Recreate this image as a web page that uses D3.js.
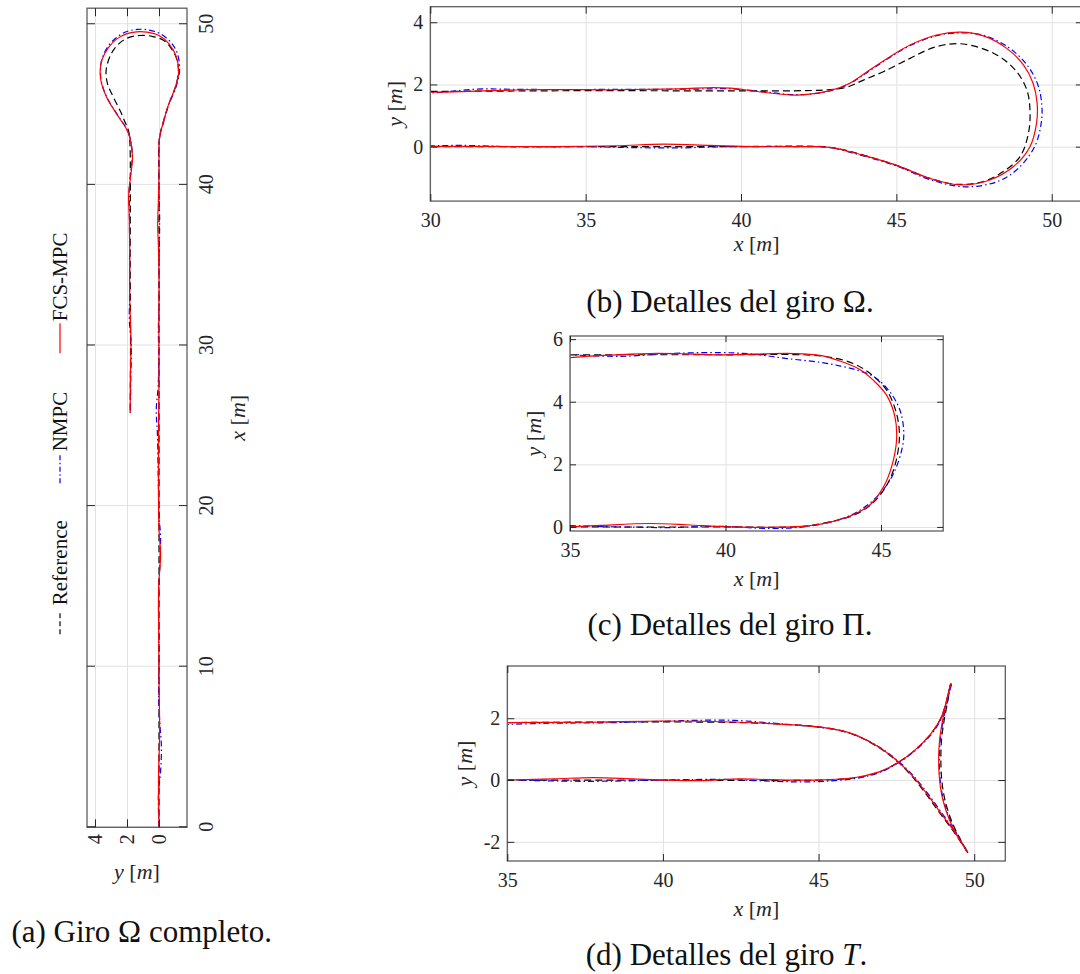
<!DOCTYPE html>
<html>
<head>
<meta charset="utf-8">
<script src="https://cdn.jsdelivr.net/npm/d3@7"></script>
<style>
body { margin: 0; background: #fff; }
svg { display: block; font-family: "Liberation Serif", "DejaVu Serif", serif; }
</style>
</head>
<body>
<svg id="fig" width="1080" height="974"></svg>
<script>

// series in drawing order (reference below, FCS-MPC on top)
var seriesNames = ["Reference", "NMPC", "FCS-MPC"];

// ---- Ω turn, [x, y] in metres (panels a and b) ----
var omegaRef = [[0,0],[10,0],[20,0],[30,0],[40,0],[42.6,0],[43.3,-0.1],[43.94,-0.27],[45.0,-0.6],[46.08,-1.02],
    [46.94,-1.21],[47.8,-1.12],[48.44,-0.8],[48.98,-0.32],[49.25,0.43],[49.3,1.18],[49.2,1.82],[48.87,2.41],
    [48.23,2.95],[47.16,3.3],[46.3,3.22],[45.44,2.84],[44.58,2.41],[43.94,2.14],[43.4,1.91],[42.8,1.83],
    [42,1.8],[35,1.8],[30,1.78],[25.8,1.8]];
var omegaNmpc = [[0,0],[2,0.04],[3.5,-0.1],[5,-0.15],[6.5,-0.05],[8,0.02],[11,0],[14,0.03],[16.5,-0.06],[18,-0.1],
    [19.5,0],[22,0.05],[24.5,0.1],[26,0.17],[27.5,0.05],[29.5,0.02],[31,0.04],[33,-0.01],[35,0],[36.5,-0.03],
    [38,-0.04],[39.5,0],[42,0],[42.86,-0.03],[43.94,-0.3],[45.01,-0.62],[46.08,-1.06],[47.2,-1.29],[48.23,-1.13],
    [48.9,-0.72],[49.45,0],[49.66,0.75],[49.68,1.35],[49.55,2.0],[49.2,2.63],[48.6,3.2],[47.8,3.58],[47.05,3.66],
    [46.3,3.57],[45.44,3.25],[44.79,2.87],[44.15,2.45],[43.5,2.03],[42.86,1.79],[41.79,1.67],[40.72,1.77],
    [39.66,1.86],[38.5,1.85],[36,1.84],[33,1.84],[31.5,1.85],[30,1.73],[28,1.76],[25.8,1.79]];
var omegaFcs = [[0,0],[3,0.03],[6,-0.04],[9,0],[12,0.02],[15,0.02],[17,-0.1],[18.5,0],[21,0.03],[24,0.04],
    [26,0.02],[28,0],[31,0.01],[34,0],[36,0.03],[37.5,0.08],[39,0.04],[40.5,0],[42,0],[42.86,-0.02],[43.94,-0.28],
    [45.01,-0.6],[46.08,-1.02],[47.05,-1.23],[48.01,-1.07],[48.77,-0.64],[49.3,0],[49.51,0.75],[49.53,1.4],
    [49.4,2.04],[49.09,2.63],[48.55,3.16],[47.8,3.56],[47.05,3.68],[46.3,3.59],[45.44,3.27],[44.79,2.89],
    [44.15,2.47],[43.5,2.04],[42.86,1.8],[41.79,1.66],[40.72,1.75],[39.66,1.88],[39.1,1.9],[38,1.86],[36,1.83],
    [33,1.83],[31,1.77],[30,1.75],[28,1.79],[25.8,1.8]];

// ---- Π turn (panel c) ----
var piRef = [[35,0],[40,0],[42.5,0.02],[43.57,0.21],[44.11,0.37],[44.65,0.69],[45.08,1.17],[45.4,1.81],[45.59,2.82],
    [45.5,3.62],[45.18,4.37],[44.65,4.9],[44.11,5.22],[43.47,5.4],[42.72,5.49],[40,5.5],[35,5.5]];
var piNmpc = [[35,0.04],[36.61,0],[38.22,-0.02],[39.82,0.02],[41.43,-0.05],[42.5,0],[43.57,0.21],[44.32,0.53],
    [44.97,1.07],[45.4,1.7],[45.69,2.56],[45.73,3.09],[45.61,3.73],[45.29,4.31],[44.8,4.78],[44.3,4.99],
    [43.7,5.14],[43.04,5.26],[41.97,5.38],[40.89,5.52],[39.82,5.57],[38.22,5.54],[36.61,5.45],[35,5.5]];
var piFcs = [[35,0],[36,0.05],[37.57,0.11],[38.75,0.07],[40.04,0],[41.43,-0.01],[42.5,0.02],[43.36,0.15],[44.11,0.39],
    [44.65,0.71],[45.08,1.28],[45.34,1.92],[45.5,2.77],[45.45,3.51],[45.18,4.21],[44.75,4.69],[44.32,5.03],
    [43.68,5.3],[43.04,5.48],[42.18,5.54],[40.89,5.52],[39.82,5.5],[38.75,5.53],[37.57,5.54],[36.07,5.48],[35,5.41]];

// ---- T turn (panel d): forward, reverse, forward ----
var tRef = [
    [[35,0],[40,0],[45,0],[46.22,0.08],[46.97,0.27],[47.51,0.54],[48.04,0.92],[48.58,1.46],[48.9,1.94],[49.06,2.37],
     [49.17,2.81],[49.24,3.1]],
    [[49.24,3.1],[49.14,2.5],[49.03,1.9],[48.95,1.3],[48.93,0.7],[48.95,0.1],[49.03,-0.5],[49.16,-1.0],[49.35,-1.5],
     [49.57,-1.94],[49.8,-2.36]],
    [[49.8,-2.36],[49.32,-1.64],[48.88,-1.05],[48.45,-0.45],[48.02,0.1],[47.55,0.58],[47.07,0.96],[46.55,1.28],
     [45.9,1.55],[45,1.72],[43.76,1.81],[42.48,1.86],[40,1.88],[35,1.86]]];
var tNmpc = [
    [[35,0.01],[36.5,-0.03],[38,-0.04],[40,0],[42,0.02],[43.5,-0.04],[44.6,-0.06],[45.5,-0.02],[46.3,0.07],[47.0,0.26],
     [47.55,0.55],[48.08,0.93],[48.6,1.45],[48.93,1.95],[49.1,2.4],[49.2,2.85],[49.27,3.12]],
    [[49.27,3.12],[49.13,2.5],[49.0,1.9],[48.91,1.3],[48.88,0.7],[48.9,0.1],[48.98,-0.5],[49.12,-1.0],[49.32,-1.5],
     [49.55,-1.94],[49.79,-2.33]],
    [[49.79,-2.33],[49.36,-1.63],[48.95,-1.05],[48.52,-0.45],[48.08,0.1],[47.6,0.58],[47.1,0.97],[46.58,1.28],
     [45.9,1.55],[45,1.71],[43.76,1.82],[42.3,1.93],[41,1.93],[40,1.9],[38,1.85],[36.5,1.84],[35,1.8]]];
var tFcs = [
    [[35,0],[36.5,0.04],[37.76,0.08],[39,0.04],[40,0],[41.3,-0.02],[42.48,0.04],[43.5,0.01],[45,0],[46.22,0.09],
     [46.97,0.27],[47.51,0.54],[48.04,0.92],[48.58,1.46],[48.9,1.94],[49.06,2.37],[49.17,2.81],[49.25,3.13]],
    [[49.25,3.13],[49.1,2.5],[48.98,1.9],[48.89,1.3],[48.86,0.7],[48.88,0.1],[48.96,-0.5],[49.1,-1.0],[49.3,-1.5],
     [49.54,-1.94],[49.79,-2.34]],
    [[49.79,-2.34],[49.33,-1.62],[48.9,-1.03],[48.47,-0.43],[48.04,0.11],[47.56,0.59],[47.08,0.97],[46.55,1.29],
     [45.9,1.56],[45,1.72],[43.76,1.81],[42.48,1.87],[40,1.91],[37.55,1.87],[35,1.86]]];

// tick values
var omegaFullXTicks = [0, 10, 20, 30, 40, 50];
var omegaXTicks = [30, 35, 40, 45, 50];
var omegaYTicks = [0, 2, 4];
var piXTicks = [35, 40, 45];
var piYTicks = [0, 2, 4, 6];
var tXTicks = [35, 40, 45, 50];
var tYTicks = [-2, 0, 2];

// line styles, same order as seriesNames
var lineColors = ["#000000", "#0000ff", "#ff0000"];
var lineDash = ["7,4", "6,3,1.5,3", null];
var legendDash = ["5,3", "5,2.5,1.5,2.5", null];

var svg = d3.select("#fig");
var clipCount = 0;

function drawPanel(g, p) {
    var x = d3.scaleLinear().domain(p.xDomain).range([0, p.w]);
    var y = d3.scaleLinear().domain(p.yDomain).range([p.h, 0]);

    //grid lines
    var gx = g.append("g")
        .attr("transform", "translate(0," + p.h + ")")
        .call(d3.axisBottom(x).tickValues(p.xTicks).tickSize(-p.h).tickFormat(""));
    var gy = g.append("g")
        .call(d3.axisLeft(y).tickValues(p.yTicks).tickSize(-p.w).tickFormat(""));
    [gx, gy].forEach(function (a) {
        a.select(".domain").remove();
        a.selectAll("line").attr("stroke", "#e1e1e1").attr("stroke-width", 1);
    });

    //trajectories, clipped to the axes box
    clipCount++;
    var clipId = "clip" + clipCount;
    g.append("clipPath").attr("id", clipId)
        .append("rect").attr("width", p.w).attr("height", p.h);

    var line = d3.line()
        .x(function (d) { return x(d[0]); })
        .y(function (d) { return y(d[1]); })
        .curve(d3.curveCatmullRom.alpha(0.5));

    var plot = g.append("g").attr("clip-path", "url(#" + clipId + ")");
    p.series.forEach(function (segs, i) {
        plot.selectAll(".s" + i)
            .data(segs)
            .enter()
            .append("path")
            .attr("class", "s" + i)
            .attr("d", line)
            .attr("fill", "none")
            .attr("stroke", lineColors[i])
            .attr("stroke-width", 1.2)
            .attr("stroke-dasharray", lineDash[i]);
    });

    //box
    g.append("rect")
        .attr("width", p.w).attr("height", p.h)
        .attr("fill", "none")
        .attr("stroke", "#5e5e5e")
        .attr("stroke-width", 1.3);

    //inward ticks on all four sides, labels only bottom and left
    var axes = [
        g.append("g").attr("transform", "translate(0," + p.h + ")")
            .call(d3.axisBottom(x).tickValues(p.xTicks).tickSizeInner(-p.tick).tickSizeOuter(0)
                .tickPadding(11.3).tickFormat(function (d) { return String(d); })),
        g.append("g")
            .call(d3.axisTop(x).tickValues(p.xTicks).tickSizeInner(-p.tick).tickSizeOuter(0).tickFormat("")),
        g.append("g")
            .call(d3.axisLeft(y).tickValues(p.yTicks).tickSizeInner(-p.tick).tickSizeOuter(0)
                .tickPadding(7).tickFormat(function (d) { return String(d); })),
        g.append("g").attr("transform", "translate(" + p.w + ",0)")
            .call(d3.axisRight(y).tickValues(p.yTicks).tickSizeInner(-p.tick).tickSizeOuter(0).tickFormat(""))
    ];
    axes.forEach(function (a) {
        a.attr("font-family", null).attr("font-size", 20).attr("color", "#262626");
        a.select(".domain").remove();
        a.selectAll("line").attr("stroke-width", 1);
    });

    //x label
    if (p.xLabelY !== undefined) {
        axisLabel(g.append("text"), "x")
            .attr("x", p.w / 2)
            .attr("y", p.xLabelY)
            .attr("text-anchor", "middle");
    }
    //y label (rotated)
    if (p.yLabelX !== undefined) {
        axisLabel(g.append("text"), "y")
            .attr("transform", "translate(" + p.yLabelX + "," + p.h / 2 + ")rotate(-90)")
            .attr("text-anchor", "middle");
    }
    return g;
}

// "x [m]" with italic math symbols
function axisLabel(t, v) {
    t.attr("font-size", 22).attr("fill", "#262626");
    t.append("tspan").attr("font-style", "italic").text(v);
    t.append("tspan").text(" [");
    t.append("tspan").attr("font-style", "italic").text("m");
    t.append("tspan").text("]");
    return t;
}

function caption(cx, cy, parts) {
    var t = svg.append("text")
        .attr("x", cx).attr("y", cy)
        .attr("text-anchor", "middle")
        .attr("font-size", 31)
        .attr("fill", "#111");
    parts.forEach(function (s) {
        t.append("tspan").attr("font-style", s.it ? "italic" : null).text(s.t);
    });
}

// (a) full Ω turn, drawn as a normal chart then turned 90° counter-clockwise
var gA = svg.append("g").attr("transform", "translate(87,827.3)rotate(-90)");
drawPanel(gA, {
    xDomain: [0, 51], yDomain: [-1.75, 4.5], w: 819.1, h: 100, tick: 8,
    xTicks: omegaFullXTicks, yTicks: omegaYTicks,
    series: [[omegaRef], [omegaNmpc], [omegaFcs]],
    xLabelY: 158
});
axisLabel(svg.append("text"), "y")
    .attr("x", 137).attr("y", 879).attr("text-anchor", "middle");

//legend, laid out along the rotated top edge
var legendPos = [[193, 215, 222], [344, 374, 376], [474, 504, 506]];
var legend = gA.append("g").attr("transform", "translate(0,-27)");
seriesNames.forEach(function (name, i) {
    legend.append("line")
        .attr("x1", legendPos[i][0]).attr("x2", legendPos[i][1])
        .attr("stroke", lineColors[i])
        .attr("stroke-width", 1.2)
        .attr("stroke-dasharray", legendDash[i]);
    legend.append("text")
        .attr("x", legendPos[i][2])
        .attr("y", 7)
        .attr("font-size", 21)
        .attr("fill", "#111")
        .text(name);
});

// (b) Ω detail
drawPanel(svg.append("g").attr("transform", "translate(430.3,6.7)"), {
    xDomain: [30, 51], yDomain: [-1.75, 4.5], w: 652.5, h: 194.4, tick: 7,
    xTicks: omegaXTicks, yTicks: omegaYTicks,
    series: [[omegaRef], [omegaNmpc], [omegaFcs]],
    xLabelY: 244, yLabelX: -28.3
});

// (c) Π detail
drawPanel(svg.append("g").attr("transform", "translate(570,336)"), {
    xDomain: [35, 47], yDomain: [-0.13, 6.1], w: 373.2, h: 195, tick: 6,
    xTicks: piXTicks, yTicks: piYTicks,
    series: [[piRef], [piNmpc], [piFcs]],
    xLabelY: 249.7, yLabelX: -29
});

// (d) T detail
drawPanel(svg.append("g").attr("transform", "translate(507.3,666)"), {
    xDomain: [35, 51], yDomain: [-2.62, 3.69], w: 498, h: 195, tick: 7,
    xTicks: tXTicks, yTicks: tYTicks,
    series: [tRef, tNmpc, tFcs],
    xLabelY: 250, yLabelX: -35.3
});

caption(141.7, 941.7, [{t: "(a) Giro Ω completo."}]);
caption(730, 311.7, [{t: "(b) Detalles del giro Ω."}]);
caption(730, 635, [{t: "(c) Detalles del giro Π."}]);
caption(726.5, 965, [{t: "(d) Detalles del giro "}, {t: "T", it: true}, {t: "."}]);

</script>
</body>
</html>
